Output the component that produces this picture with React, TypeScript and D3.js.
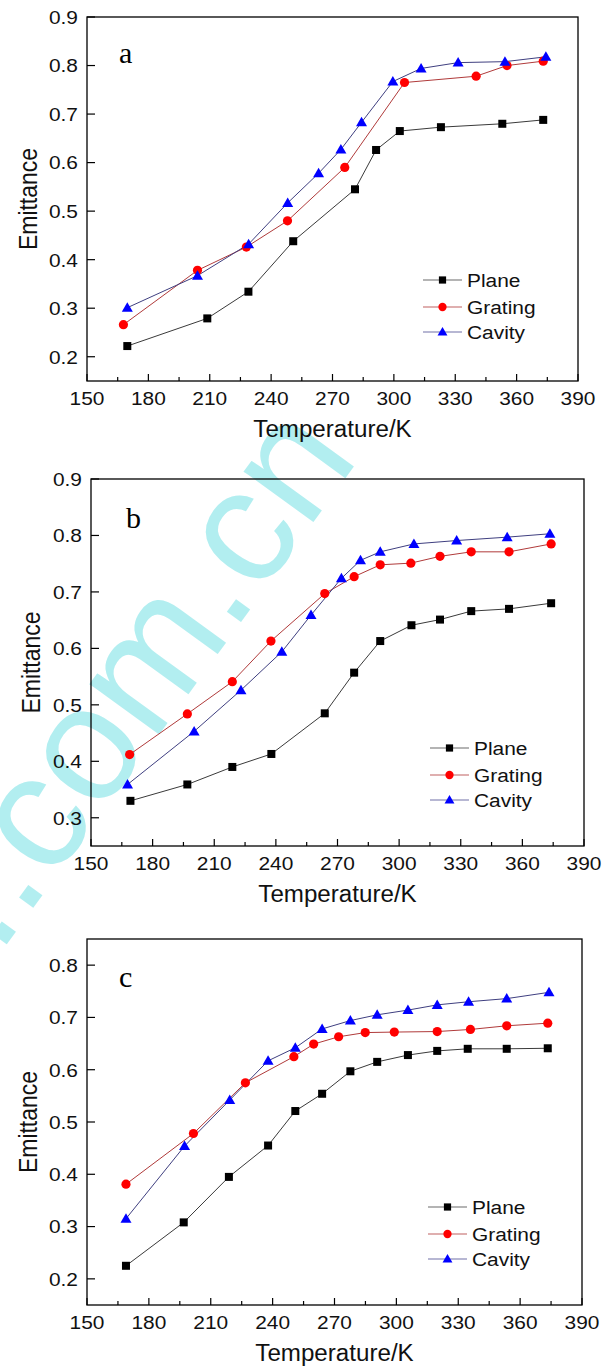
import React from "react";
import * as d3 from "d3";

// ---------- data ----------
const xTicks = [150, 180, 210, 240, 270, 300, 330, 360, 390];
const seriesNames = ["Plane", "Grating", "Cavity"];

// panel a
const aPlaneT = [169.7, 208.8, 228.9, 250.8, 281, 291.3, 302.9, 323, 353, 373];
const aPlaneE = [0.222, 0.279, 0.334, 0.438, 0.545, 0.626, 0.665, 0.673, 0.68, 0.688];
const aGratingT = [167.8, 204, 227.9, 248, 276, 305.2, 340.2, 355.3, 373];
const aGratingE = [0.266, 0.378, 0.426, 0.48, 0.59, 0.765, 0.778, 0.8, 0.809];
const aCavityT = [169.7, 204, 229, 248.1, 263.2, 274.1, 284.2, 299.5, 313.3, 331.4, 354.3, 374.3];
const aCavityE = [0.301, 0.367, 0.432, 0.517, 0.578, 0.627, 0.683, 0.767, 0.794, 0.806, 0.808, 0.818];
const aYTicks = [0.2, 0.3, 0.4, 0.5, 0.6, 0.7, 0.8, 0.9];

// panel b
const bPlaneT = [169.2, 196.9, 218.8, 237.8, 263.8, 278.1, 290.8, 306, 319.9, 335.1, 353.5, 374];
const bPlaneE = [0.33, 0.359, 0.39, 0.413, 0.485, 0.557, 0.613, 0.641, 0.651, 0.666, 0.67, 0.68];
const bGratingT = [168.8, 196.9, 218.8, 237.6, 263.8, 278.1, 290.8, 305.7, 319.9, 335.1, 353.5, 374];
const bGratingE = [0.412, 0.484, 0.541, 0.613, 0.697, 0.727, 0.748, 0.751, 0.763, 0.771, 0.771, 0.785];
const bCavityT = [167.8, 200.2, 223, 242.9, 257.1, 271.9, 281.2, 290.8, 307.2, 328, 352.6, 373.4];
const bCavityE = [0.359, 0.453, 0.526, 0.594, 0.659, 0.724, 0.756, 0.771, 0.785, 0.791, 0.797, 0.803];
const bYTicks = [0.3, 0.4, 0.5, 0.6, 0.7, 0.8, 0.9];

// panel c
const cPlaneT = [168.9, 196.9, 218.8, 237.8, 251, 264, 277.7, 290.7, 305.6, 319.8, 334.6, 353.5, 373.4];
const cPlaneE = [0.225, 0.308, 0.395, 0.455, 0.521, 0.554, 0.597, 0.615, 0.628, 0.636, 0.64, 0.64, 0.641];
const cGratingT = [168.9, 201.6, 226.8, 250.3, 259.9, 272, 284.9, 299, 319.8, 335.9, 353.5, 373.4];
const cGratingE = [0.381, 0.478, 0.575, 0.625, 0.649, 0.663, 0.671, 0.672, 0.673, 0.677, 0.684, 0.689];
const cCavityT = [168.9, 197.3, 219.2, 237.8, 251, 264, 277.7, 290.7, 305.6, 319.8, 335, 353.5, 374];
const cCavityE = [0.315, 0.454, 0.542, 0.617, 0.642, 0.678, 0.694, 0.705, 0.714, 0.724, 0.73, 0.736, 0.748];
const cYTicks = [0.2, 0.3, 0.4, 0.5, 0.6, 0.7, 0.8];

// ---------- styling ----------
const lineColors = ["#3a3a3a", "#b03a3a", "#3f3f80"];
const legendLineColors = ["#6a6a6a", "#c06060", "#7070a8"];
const markColors = ["#000000", "#ff0000", "#0000ff"];
const SANS = "Arial, 'Liberation Sans', Helvetica, sans-serif";
const SERIF = "'Times New Roman', 'Liberation Serif', serif";
const SX = 1.1; // horizontal stretch of the sans labels in the reference

type Panel = {
  letter: string;
  box: { l: number; r: number; t: number; b: number };
  yDom: [number, number];
  yTicks: number[];
  series: { t: number[]; e: number[] }[];
  legend: { x0: number; x1: number; tx: number; rows: number[] };
  letterPos: [number, number];
  yLabelX: number;
};

const panels: Panel[] = [
  {
    letter: "a",
    box: { l: 87, r: 578, t: 17, b: 381 },
    yDom: [0.15, 0.9],
    yTicks: aYTicks,
    series: [
      { t: aPlaneT, e: aPlaneE },
      { t: aGratingT, e: aGratingE },
      { t: aCavityT, e: aCavityE },
    ],
    legend: { x0: 423, x1: 462, tx: 467, rows: [280, 307, 332] },
    letterPos: [119, 63],
    yLabelX: 37,
  },
  {
    letter: "b",
    box: { l: 91, r: 584, t: 479, b: 846 },
    yDom: [0.25, 0.9],
    yTicks: bYTicks,
    series: [
      { t: bPlaneT, e: bPlaneE },
      { t: bGratingT, e: bGratingE },
      { t: bCavityT, e: bCavityE },
    ],
    legend: { x0: 430, x1: 469, tx: 474, rows: [748, 775, 800] },
    letterPos: [126, 528],
    yLabelX: 40,
  },
  {
    letter: "c",
    box: { l: 87, r: 582, t: 939, b: 1305 },
    yDom: [0.15, 0.85],
    yTicks: cYTicks,
    series: [
      { t: cPlaneT, e: cPlaneE },
      { t: cGratingT, e: cGratingE },
      { t: cCavityT, e: cCavityE },
    ],
    legend: { x0: 428, x1: 467, tx: 472, rows: [1207, 1234, 1259] },
    letterPos: [119, 987],
    yLabelX: 37,
  },
];

function SText({
  x,
  y,
  size,
  anchor,
  sx,
  dy,
  children,
}: {
  x: number;
  y: number;
  size: number;
  anchor?: string;
  sx?: number;
  dy?: string;
  children: React.ReactNode;
}) {
  return (
    <text
      transform={`translate(${x},${y}) scale(${sx ?? SX},1)`}
      dy={dy}
      textAnchor={anchor ?? "start"}
      fontFamily={SANS}
      fontSize={size}
      fill="#111"
    >
      {children}
    </text>
  );
}

function Marker({ kind, x, y, s = 1 }: { kind: number; x: number; y: number; s?: number }) {
  if (kind === 0) return <rect x={x - 4 * s} y={y - 4 * s} width={8 * s} height={8 * s} fill={markColors[0]} />;
  if (kind === 1) return <circle cx={x} cy={y} r={4.6 * s} fill={markColors[1]} />;
  const p = d3.path();
  p.moveTo(x, y - 5.5 * s);
  p.lineTo(x + 5.5 * s, y + 4 * s);
  p.lineTo(x - 5.5 * s, y + 4 * s);
  p.closePath();
  return <path d={p.toString()} fill={markColors[2]} />;
}

function PanelView({ p }: { p: Panel }) {
  const { l, r, t, b } = p.box;
  const x = d3.scaleLinear().domain([150, 390]).range([l, r]);
  const y = d3.scaleLinear().domain(p.yDom).range([b, t]);
  const minor = d3.range(165, 390, 30);
  const line = d3
    .line<[number, number]>()
    .x((d) => x(d[0]))
    .y((d) => y(d[1]));
  return (
    <g>
      <text x={p.letterPos[0]} y={p.letterPos[1]} fontFamily={SERIF} fontSize={30}>
        {p.letter}
      </text>
      {p.series.map((s, i) => (
        <path
          key={"l" + i}
          d={line(s.t.map((tt, k) => [tt, s.e[k]] as [number, number])) || ""}
          fill="none"
          stroke={lineColors[i]}
          strokeWidth={1}
        />
      ))}
      {p.series.map((s, i) =>
        s.t.map((tt, k) => <Marker key={"m" + i + "_" + k} kind={i} x={x(tt)} y={y(s.e[k])} />)
      )}
      <rect x={l} y={t} width={r - l} height={b - t} fill="none" stroke="#000" strokeWidth={1.3} />
      {xTicks.map((v) => (
        <g key={"xt" + v}>
          <line x1={x(v)} x2={x(v)} y1={b} y2={b - 7} stroke="#000" strokeWidth={1.2} />
          <SText x={x(v)} y={b + 24} size={19} anchor="middle">
            {v}
          </SText>
        </g>
      ))}
      {minor.map((v) => (
        <line key={"mt" + v} x1={x(v)} x2={x(v)} y1={b} y2={b - 4} stroke="#000" strokeWidth={1.2} />
      ))}
      {p.yTicks.map((v) => (
        <g key={"yt" + v}>
          <line x1={l} x2={l + 8} y1={y(v)} y2={y(v)} stroke="#000" strokeWidth={1.2} />
          <SText x={l - 9} y={y(v)} dy="0.36em" size={19} anchor="end">
            {v.toFixed(1)}
          </SText>
        </g>
      ))}
      <SText x={(l + r) / 2} y={b + 56} size={23} anchor="middle" sx={1.05}>
        Temperature/K
      </SText>
      <text
        transform={`translate(${p.yLabelX},${(t + b) / 2}) rotate(-90) scale(1,1.1)`}
        textAnchor="middle"
        fontFamily={SANS}
        fontSize={23}
        fill="#111"
      >
        Emittance
      </text>
      {seriesNames.map((n, i) => {
        const ry = p.legend.rows[i];
        const mx = (p.legend.x0 + p.legend.x1) / 2;
        return (
          <g key={"lg" + n}>
            <line x1={p.legend.x0} x2={p.legend.x1} y1={ry} y2={ry} stroke={legendLineColors[i]} strokeWidth={1.2} />
            <Marker kind={i} x={mx} y={ry} s={0.9} />
            <SText x={p.legend.tx} y={ry} dy="0.36em" size={19}>
              {n}
            </SText>
          </g>
        );
      })}
    </g>
  );
}

export default function App() {
  return (
    <svg
      width={612}
      height={1371}
      style={{ position: "absolute", left: 0, top: 0, background: "#fff" }}
      xmlns="http://www.w3.org/2000/svg"
    >
      <rect x={0} y={0} width={612} height={1371} fill="#fff" />
      <text
        transform="translate(360,458) rotate(-54)"
        textAnchor="end"
        fontFamily={SANS}
        fontSize={163}
        fill="#b2eef0"
      >
        ..com.cn
      </text>
      {panels.map((p) => (
        <PanelView key={p.letter} p={p} />
      ))}
    </svg>
  );
}
